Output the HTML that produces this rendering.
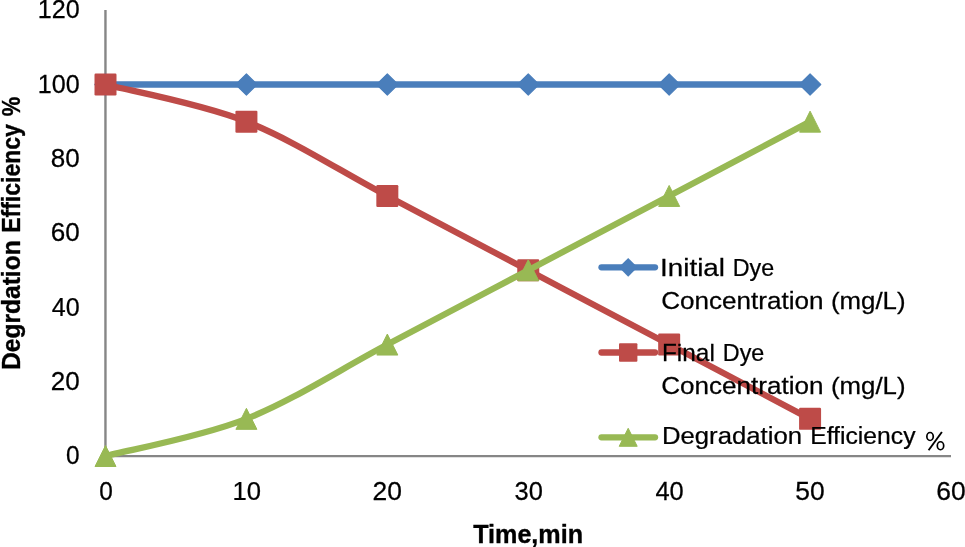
<!DOCTYPE html><html><head><meta charset="utf-8"><title>chart</title>
<style>html,body{margin:0;padding:0;background:#fff;overflow:hidden}svg{display:block}text{font-family:"Liberation Sans",sans-serif;fill:#000}</style></head><body>
<svg width="965" height="547" viewBox="0 0 965 547" style="will-change:transform">
<rect width="965" height="547" fill="#fff"/>
<path d="M105.45 10 V457" stroke="#868686" stroke-width="2.4" fill="none"/>
<path d="M104.3 456.1 H951" stroke="#868686" stroke-width="2.4" fill="none"/>
<path d="M105.50 84.50 H810.08" stroke="#4a7ebb" stroke-width="6.3" fill="none" stroke-linecap="round"/>
<path d="M105.50 73.80 L116.20 84.50 L105.50 95.20 L94.80 84.50 Z" fill="#4a7ebb" stroke="#4a7ebb" stroke-width="1.1" stroke-linejoin="round"/>
<path d="M246.42 73.80 L257.12 84.50 L246.42 95.20 L235.72 84.50 Z" fill="#4a7ebb" stroke="#4a7ebb" stroke-width="1.1" stroke-linejoin="round"/>
<path d="M387.33 73.80 L398.03 84.50 L387.33 95.20 L376.63 84.50 Z" fill="#4a7ebb" stroke="#4a7ebb" stroke-width="1.1" stroke-linejoin="round"/>
<path d="M528.25 73.80 L538.95 84.50 L528.25 95.20 L517.55 84.50 Z" fill="#4a7ebb" stroke="#4a7ebb" stroke-width="1.1" stroke-linejoin="round"/>
<path d="M669.17 73.80 L679.87 84.50 L669.17 95.20 L658.47 84.50 Z" fill="#4a7ebb" stroke="#4a7ebb" stroke-width="1.1" stroke-linejoin="round"/>
<path d="M810.08 73.80 L820.78 84.50 L810.08 95.20 L799.38 84.50 Z" fill="#4a7ebb" stroke="#4a7ebb" stroke-width="1.1" stroke-linejoin="round"/>
<path d="M105.50 84.50 C128.99 90.69 199.44 103.07 246.42 121.65 C293.39 140.22 340.36 171.18 387.33 195.95 C434.31 220.72 481.28 245.48 528.25 270.25 C575.22 295.02 622.19 319.78 669.17 344.55 C716.14 369.32 786.60 406.47 810.08 418.85" stroke="#be4b48" stroke-width="6.3" fill="none" stroke-linecap="round" stroke-linejoin="round"/>
<rect x="94.50" y="73.50" width="22" height="22" rx="1.2" fill="#be4b48"/>
<rect x="235.42" y="110.65" width="22" height="22" rx="1.2" fill="#be4b48"/>
<rect x="376.33" y="184.95" width="22" height="22" rx="1.2" fill="#be4b48"/>
<rect x="517.25" y="259.25" width="22" height="22" rx="1.2" fill="#be4b48"/>
<rect x="658.17" y="333.55" width="22" height="22" rx="1.2" fill="#be4b48"/>
<rect x="799.08" y="407.85" width="22" height="22" rx="1.2" fill="#be4b48"/>
<path d="M105.50 456.00 C128.99 449.81 199.44 437.43 246.42 418.85 C293.39 400.28 340.36 369.32 387.33 344.55 C434.31 319.78 481.28 295.02 528.25 270.25 C575.22 245.48 622.19 220.72 669.17 195.95 C716.14 171.18 786.60 134.03 810.08 121.65" stroke="#98b954" stroke-width="6.3" fill="none" stroke-linecap="round" stroke-linejoin="round"/>
<path d="M105.50 445.50 L116.00 466.50 L95.00 466.50 Z" fill="#98b954" stroke="#98b954" stroke-width="1" stroke-linejoin="round"/>
<path d="M246.42 408.35 L256.92 429.35 L235.92 429.35 Z" fill="#98b954" stroke="#98b954" stroke-width="1" stroke-linejoin="round"/>
<path d="M387.33 334.05 L397.83 355.05 L376.83 355.05 Z" fill="#98b954" stroke="#98b954" stroke-width="1" stroke-linejoin="round"/>
<path d="M528.25 259.75 L538.75 280.75 L517.75 280.75 Z" fill="#98b954" stroke="#98b954" stroke-width="1" stroke-linejoin="round"/>
<path d="M669.17 185.45 L679.67 206.45 L658.67 206.45 Z" fill="#98b954" stroke="#98b954" stroke-width="1" stroke-linejoin="round"/>
<path d="M810.08 111.15 L820.58 132.15 L799.58 132.15 Z" fill="#98b954" stroke="#98b954" stroke-width="1" stroke-linejoin="round"/>
<path d="M601.5 267.30 H655" stroke="#4a7ebb" stroke-width="6.3" stroke-linecap="round" fill="none"/>
<path d="M628.20 257.90 L637.60 267.30 L628.20 276.70 L618.80 267.30 Z" fill="#4a7ebb"/>
<path d="M601.5 352.50 H655" stroke="#be4b48" stroke-width="6.3" stroke-linecap="round" fill="none"/>
<rect x="619.00" y="343.30" width="18.4" height="18.4" rx="1" fill="#be4b48"/>
<path d="M601.5 437.30 H655" stroke="#98b954" stroke-width="6.3" stroke-linecap="round" fill="none"/>
<path d="M628.20 428.30 L637.20 446.30 L619.20 446.30 Z" fill="#98b954" stroke="#98b954" stroke-width="1" stroke-linejoin="round"/>
<text transform="translate(659.98 275.80) scale(1.1614 1)" font-size="24" stroke="#000" stroke-width="0.25">Initial</text>
<text transform="translate(732.73 275.80) scale(0.9702 1)" font-size="24" stroke="#000" stroke-width="0.25">Dye</text>
<text transform="translate(661.21 309.30) scale(1.0865 1)" font-size="24" stroke="#000" stroke-width="0.25">Concentration</text>
<text transform="translate(830.92 309.30) scale(1.0765 1)" font-size="24" stroke="#000" stroke-width="0.25">(mg/L)</text>
<text transform="translate(661.98 360.60) scale(1.0164 1)" font-size="24" stroke="#000" stroke-width="0.25">Final</text>
<text transform="translate(722.83 360.60) scale(0.9726 1)" font-size="24" stroke="#000" stroke-width="0.25">Dye</text>
<text transform="translate(661.21 394.30) scale(1.0865 1)" font-size="24" stroke="#000" stroke-width="0.25">Concentration</text>
<text transform="translate(830.92 394.30) scale(1.0765 1)" font-size="24" stroke="#000" stroke-width="0.25">(mg/L)</text>
<text transform="translate(661.93 444.40) scale(1.0716 1)" font-size="24" stroke="#000" stroke-width="0.25">Degradation</text>
<text transform="translate(810.17 444.40) scale(1.0309 1)" font-size="24" stroke="#000" stroke-width="0.25">Efficiency</text>
<text transform="translate(473.20 542.80) scale(1.0054 1)" font-size="25" font-weight="bold" stroke="#000" stroke-width="0.35">Time,min</text>
<text transform="translate(66.00 464.30) scale(0.9769 1)" font-size="25" stroke="#000" stroke-width="0.25">0</text>
<text transform="translate(50.66 390.00) scale(1.0423 1)" font-size="25" stroke="#000" stroke-width="0.25">20</text>
<text transform="translate(51.70 315.70) scale(1.0036 1)" font-size="25" stroke="#000" stroke-width="0.25">40</text>
<text transform="translate(50.66 241.40) scale(1.0423 1)" font-size="25" stroke="#000" stroke-width="0.25">60</text>
<text transform="translate(50.66 167.10) scale(1.0423 1)" font-size="25" stroke="#000" stroke-width="0.25">80</text>
<text transform="translate(37.70 92.80) scale(1.0048 1)" font-size="25" stroke="#000" stroke-width="0.25">100</text>
<text transform="translate(37.70 17.50) scale(1.0048 1)" font-size="25" stroke="#000" stroke-width="0.25">120</text>
<text transform="translate(99.15 500.20) scale(0.9769 1)" font-size="25" stroke="#000" stroke-width="0.25">0</text>
<text transform="translate(232.49 500.20) scale(1.0269 1)" font-size="25" stroke="#000" stroke-width="0.25">10</text>
<text transform="translate(372.58 500.20) scale(1.0578 1)" font-size="25" stroke="#000" stroke-width="0.25">20</text>
<text transform="translate(514.55 500.20) scale(1.0184 1)" font-size="25" stroke="#000" stroke-width="0.25">30</text>
<text transform="translate(655.47 500.20) scale(1.0184 1)" font-size="25" stroke="#000" stroke-width="0.25">40</text>
<text transform="translate(795.33 500.20) scale(1.0578 1)" font-size="25" stroke="#000" stroke-width="0.25">50</text>
<text transform="translate(936.24 500.20) scale(1.0578 1)" font-size="25" stroke="#000" stroke-width="0.25">60</text>
<text transform="translate(20.2 369.98) rotate(-90) scale(0.9832 1)" font-size="25" font-weight="bold" stroke="#000" stroke-width="0.35">Degrdation</text>
<text transform="translate(20.2 232.82) rotate(-90) scale(0.9207 1)" font-size="25" font-weight="bold" stroke="#000" stroke-width="0.35">Efficiency</text>
<text transform="translate(20.2 116.30) rotate(-90) scale(0.8773 1)" font-size="25" font-weight="bold" stroke="#000" stroke-width="0.35">%</text>
<g fill="none" stroke="#000"><ellipse cx="930.05" cy="436.5" rx="3.2" ry="4.0" stroke-width="1.7"/><ellipse cx="940.5" cy="445.75" rx="3.2" ry="4.0" stroke-width="1.7"/><path d="M941.9 432 L928.6 450.3" stroke-width="1.9"/></g>
</svg></body></html>
